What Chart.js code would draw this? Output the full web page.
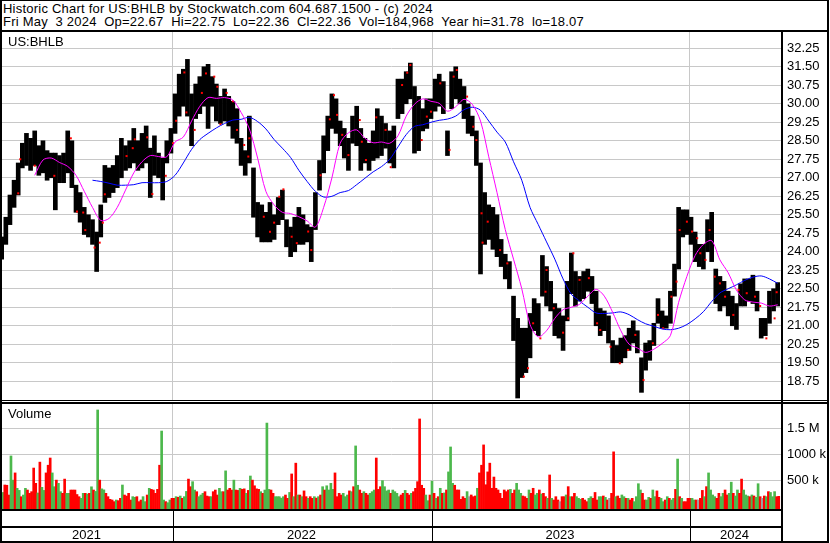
<!DOCTYPE html>
<html>
<head>
<meta charset="utf-8">
<script src="https://cdn.jsdelivr.net/npm/chart.js@4.4.0/dist/chart.umd.min.js"></script>
<style>
  body { margin: 0; background: #fff; }
  #wrap { position: relative; width: 830px; height: 543px; overflow: hidden;
          font-family: "Liberation Sans", Arial, sans-serif; font-size: 13px; color: #000; }
  #wrap canvas { position: absolute; left: 0; }
  .ln { position: absolute; background: #000; }
  .txt { position: absolute; white-space: pre; line-height: 13px; }
  .hdr { letter-spacing: 0.22px; }
</style>
</head>
<body>
<div id="wrap">
  <canvas id="price-chart" width="830" height="368" style="top:32px"></canvas>
  <canvas id="volume-chart" width="830" height="139" style="top:404px"></canvas>

  <div class="txt hdr" style="left:3px;top:2px">Historic Chart for US:BHLB by Stockwatch.com 604.687.1500 - (c) 2024</div>
  <div class="txt hdr" style="left:3px;top:15px">Fri May  3 2024  Op=22.67  Hi=22.75  Lo=22.36  Cl=22.36  Vol=184,968  Year hi=31.78  lo=18.07</div>
  <div class="txt" style="left:8px;top:35px">US:BHLB</div>
  <div class="txt" style="left:8px;top:407px">Volume</div>

  <!-- frame -->
  <div class="ln" style="left:0;top:0;width:829px;height:1px"></div>
  <div class="ln" style="left:0;top:0;width:2px;height:543px"></div>
  <div class="ln" style="left:827px;top:0;width:2px;height:543px"></div>
  <div class="ln" style="left:0;top:30px;width:829px;height:2px"></div>
  <div class="ln" style="left:781px;top:30px;width:2px;height:513px"></div>
  <div class="ln" style="left:0;top:400px;width:829px;height:1px"></div>
  <div class="ln" style="left:0;top:402px;width:829px;height:2px"></div>
  <div class="ln" style="left:0;top:509px;width:783px;height:2px"></div>
  <div class="ln" style="left:0;top:526px;width:783px;height:2px"></div>
  <div class="ln" style="left:0;top:541px;width:829px;height:2px"></div>
</div>

<script>
// Time axis is in trading days since early May 2021
const firstDay = 2.3;
const lastDay = 757.2;
const yearLabels = ['2021', '2022', '2023', '2024'];
const yearStartDay = [168, 419, 669];

const priceTicks = [18.75, 19.50, 20.25, 21.00, 21.75, 22.50, 23.25, 24.00, 24.75, 25.50,
  26.25, 27.00, 27.75, 28.50, 29.25, 30.00, 30.75, 31.50, 32.25];

// each price bar = high/low of 4 trading days
const barDays = 4;
const barHigh = [
  24.6, 25.4, 26.3, 26.9, 27.6, 28.4, 28.8, 28.6, 28.9, 28.3,
  28.5, 28.1, 28.0, 28.0, 27.9, 28.0, 28.9, 28.5, 26.7, 26.4,
  25.8, 25.5, 25.3, 24.8, 25.9, 27.5, 27.4, 27.5, 27.9, 28.6,
  28.3, 28.5, 29.0, 28.5, 28.8, 29.1, 28.2, 28.7, 28.0, 27.8,
  28.5, 29.0, 30.4, 31.2, 31.4, 31.8, 30.4, 30.8, 31.1, 31.5,
  31.6, 31.1, 30.8, 30.3, 30.6, 30.3, 30.1, 29.8, 28.6, 28.1,
  29.5, 27.4, 26.0, 25.9, 25.6, 26.0, 25.5, 26.2, 26.5, 25.3,
  25.0, 25.4, 25.8, 25.5, 25.1, 25.0, 26.4, 27.7, 28.7, 29.5,
  30.4, 30.2, 29.3, 29.0, 28.6, 29.5, 29.9, 29.0, 28.6, 28.4,
  28.9, 29.8, 29.5, 29.2, 28.9, 29.1, 31.0, 31.0, 31.3, 31.65,
  30.7, 30.3, 29.8, 30.2, 30.2, 31.0, 31.2, 30.9, 28.9, 31.3,
  31.5, 31.0, 30.7, 30.0, 29.5, 28.9, 27.6, 26.4, 25.9, 25.8,
  25.5, 24.5, 23.9, 23.6, 22.2, 21.3, 20.9, 20.9, 21.5, 22.1,
  21.9, 23.85, 23.4, 22.8, 21.9, 21.7, 21.4, 22.8, 23.95, 23.2,
  23.0, 23.2, 23.3, 23.0, 22.4, 21.7, 21.6, 21.4, 20.4, 20.2,
  20.5, 20.6, 20.9, 21.2, 20.8, 19.7, 20.3, 20.4, 21.1, 22.1,
  21.6, 21.4, 22.4, 23.5, 25.8, 25.7, 25.7, 25.4, 24.8, 24.3,
  24.3, 25.3, 25.6, 23.3, 23.0, 22.8, 22.4, 22.2, 21.9, 22.7,
  22.9, 22.9, 23.05, 22.4, 21.3, 21.3, 22.4, 22.5, 22.75
];
const barLow = [
  23.7, 24.3, 25.1, 25.8, 26.3, 27.4, 27.5, 27.3, 27.5, 27.1,
  27.2, 26.9, 27.0, 25.7, 26.8, 26.8, 27.2, 26.6, 25.6, 25.2,
  24.7, 24.6, 24.3, 23.2, 24.6, 26.0, 26.2, 26.4, 26.6, 27.0,
  27.3, 27.4, 27.6, 27.3, 27.4, 27.6, 26.2, 27.1, 27.0, 26.1,
  27.6, 28.0, 28.8, 29.5, 29.9, 29.5, 28.3, 29.4, 29.6, 29.9,
  29.0, 29.9, 29.3, 29.2, 29.3, 29.1, 28.6, 28.4, 27.5, 27.1,
  27.6, 25.4, 24.6, 24.4, 24.4, 24.4, 24.5, 25.1, 25.3, 24.2,
  23.8, 24.0, 24.3, 24.3, 24.4, 23.6, 24.9, 26.5, 27.2, 28.1,
  29.0, 28.8, 28.3, 27.8, 27.3, 28.4, 28.3, 27.3, 27.6, 27.3,
  27.7, 27.8, 27.9, 28.2, 27.6, 27.4, 29.4, 29.6, 30.0, 30.2,
  28.0, 28.1, 28.9, 29.0, 29.4, 29.7, 29.9, 29.6, 27.9, 29.8,
  30.2, 30.0, 29.4, 28.8, 28.7, 27.5, 23.1, 24.3, 24.5, 24.1,
  23.8, 23.4, 22.9, 22.5, 20.4, 18.07, 18.9, 19.1, 19.7, 20.8,
  20.6, 22.2, 21.8, 21.6, 20.6, 20.5, 20.0, 21.2, 22.3, 21.8,
  22.0, 22.1, 22.4, 21.9, 21.0, 20.6, 20.8, 20.3, 19.5, 19.5,
  19.5, 19.7, 20.0, 20.3, 19.9, 18.3, 19.2, 19.6, 20.2, 21.1,
  20.9, 20.9, 21.1, 22.2, 23.3, 24.6, 24.7, 24.3, 23.6, 23.4,
  23.3, 24.0, 23.6, 21.9, 21.6, 21.8, 21.4, 21.0, 20.85, 21.8,
  21.8, 22.0, 21.9, 21.6, 20.5, 20.6, 21.1, 21.6, 21.8
];

// red close marks that show at the edge of the bar mass
const markDay = [
  18, 20, 34, 53, 69, 75, 81, 83, 92, 97, 100, 102, 123, 129, 131, 143, 148, 161, 168, 171,
  179, 181, 189, 196, 200, 208, 211, 214, 220, 226, 230, 237, 241, 242, 256, 262, 266, 271,
  275, 283, 288, 299, 302, 311, 320, 324, 327, 332, 338, 349, 351, 355, 365, 374, 379, 390,
  395, 398, 409, 414, 418, 427, 436, 440, 443, 453, 459, 462, 467, 468, 473, 485, 492,
  508, 512, 517, 524, 529, 530, 537, 546, 551, 556, 562, 571, 579, 582, 592, 601, 609, 616,
  624, 633, 638, 643, 651, 656, 659, 666, 671, 676, 679, 684, 688, 693, 698, 703, 711, 716,
  724, 732, 737, 743, 751, 753
];
const markClose = [
  26.37, 27.75, 27.49, 27.08, 28.60, 25.63, 25.59, 24.88, 24.17, 24.37, 25.18, 26.33, 27.88, 28.20, 28.56, 28.64, 26.34, 27.08, 28.40, 29.31,
  31.27, 29.65, 28.94, 30.44, 31.23, 31.10, 30.69, 29.17, 30.44, 30.10, 28.94, 28.33, 27.86, 28.60, 25.42, 24.81, 25.18, 26.23,
  26.53, 24.61, 24.35, 24.82, 24.07, 27.10, 29.37, 30.35, 29.55, 28.74, 27.92, 29.34, 28.46, 27.72, 29.45, 28.94, 27.43, 30.76,
  31.26, 31.57, 28.53, 29.48, 29.68, 30.83, 28.13, 31.10, 31.37, 30.29, 29.07, 28.53, 25.56, 24.37, 25.22, 24.07, 23.53,
  18.94, 19.28, 21.10, 20.49, 22.38, 23.26, 21.71, 20.72, 21.30, 23.94, 22.86, 22.93, 21.10, 20.83, 20.15, 19.48, 20.02, 20.63,
  18.80, 20.29, 21.44, 20.90, 22.18, 22.79, 24.88, 25.22, 24.82, 24.55, 23.94, 23.67, 24.88, 22.99, 22.72, 22.18, 21.44, 22.45,
  22.32, 22.18, 21.80, 20.49, 21.30, 22.36
];

// moving averages, one reading every 8 trading days
const maDays = 8;
const maFast = [
  null, null, null, null, 27.1, 27.72, 27.8, 27.62, 27.46, 27.1,
  26.45, 25.8, 25.27, 25.35, 25.8, 26.5, 27.2, 27.65, 27.9, 27.86,
  27.85, 28.45, 28.65, 29.3, 29.9, 30.25, 30.22, 30.25, 30.15, 29.65,
  28.98, 27.8, 26.45, 25.9, 25.6, 25.55, 25.42, 25.25, 25.0, 25.8,
  27.0, 28.4, 28.82, 28.94, 28.6, 28.42, 28.45, 28.4, 28.7, 29.5,
  29.98, 30.2, 30.1, 30.02, 29.7, 29.88, 30.18, 29.98, 29.3, 27.85,
  26.4, 24.9, 23.7, 22.5, 21.05, 20.55, 20.8, 21.3, 21.65, 21.75,
  21.87, 22.2, 22.48, 22.2, 21.55, 20.8, 20.25, 20.1, 19.92, 20.05,
  20.28, 20.6, 21.95, 23.0, 23.85, 24.3, 24.45, 23.67, 23.15, 22.45,
  22.05, 21.96, 21.92, 21.8, 21.85
];
const maSlow = [
  null, null, null, null, null, null, null, null, null, null,
  null, 26.9, 26.85, 26.78, 26.7, 26.7, 26.72, 26.8, 26.8, 26.8,
  26.85, 27.1, 27.6, 28.15, 28.55, 28.8, 29.02, 29.2, 29.34, 29.37,
  29.45, 29.28, 28.98, 28.55, 28.2, 27.82, 27.3, 26.85, 26.45, 26.22,
  26.25, 26.4, 26.48, 26.72, 26.98, 27.24, 27.45, 27.75, 28.25, 28.75,
  29.08, 29.15, 29.25, 29.33, 29.38, 29.5, 29.76, 29.86, 29.74, 29.3,
  28.85, 28.45, 27.65, 26.9, 25.8, 25.1, 24.4, 23.7, 22.9, 22.28,
  22.0, 21.75, 21.52, 21.5, 21.52, 21.56, 21.45, 21.25, 21.08, 20.98,
  20.87, 20.84, 20.9, 21.05, 21.28, 21.57, 21.98, 22.33, 22.5, 22.66,
  22.84, 22.97, 23.02, 22.9, 22.72
];

// volume in thousands, one bar per 2 trading days; u = up, d = down, n = unchanged
const volDays = 2;
const volumeK = [
  275, 260, 405, 400, 210, 970, 500, 640, 340, 300,
  177, 210, 340, 307, 243, 275, 735, 437, 250, 850,
  360, 300, 640, 790, 930, 640, 372, 500, 437, 275,
  243, 520, 243, 243, 307, 307, 307, 220, 177, 146,
  243, 243, 230, 243, 370, 307, 280, 1865, 500, 330,
  310, 243, 178, 126, 113, 81, 113, 100, 146, 405,
  210, 190, 243, 113, 178, 165, 178, 81, 113, 178,
  81, 210, 340, 320, 307, 243, 320, 790, 1455, 113,
  81, 60, 113, 146, 146, 178, 165, 190, 146, 178,
  280, 520, 372, 470, 307, 275, 178, 210, 243, 275,
  190, 178, 178, 275, 307, 210, 340, 275, 275, 680,
  307, 340, 307, 500, 307, 300, 340, 320, 330, 243,
  300, 580, 500, 390, 330, 320, 275, 243, 307, 1610,
  320, 307, 243, 178, 178, 178, 150, 178, 210, 146,
  260, 620, 178, 830, 210, 210, 178, 290, 178, 146,
  178, 146, 178, 150, 178, 210, 372, 307, 390, 307,
  437, 320, 640, 178, 243, 210, 243, 178, 210, 290,
  275, 372, 1165, 400, 307, 243, 275, 243, 210, 243,
  275, 307, 930, 320, 372, 490, 372, 290, 307, 243,
  307, 275, 243, 178, 210, 243, 300, 243, 210, 243,
  275, 340, 470, 1690, 400, 340, 210, 100, 210,
  480, 243, 146, 178, 341, 243, 250, 308, 660, 1145,
  438, 400, 308, 308, 126, 178, 146, 276, 178, 211,
  178, 191, 341, 640, 790, 1185, 410, 660, 830, 341,
  560, 341, 308, 243, 146, 308, 276, 308, 320, 243,
  308, 438, 308, 243, 191, 178, 146, 308, 243, 341,
  211, 243, 308, 230, 243, 178, 146, 600, 146, 113,
  178, 113, 81, 178, 178, 211, 373, 178, 178, 243,
  178, 146, 126, 146, 113, 81, 146, 178, 146, 260,
  113, 178, 178, 191, 165, 113, 146, 243, 1050, 178,
  191, 146, 211, 178, 146, 146, 113, 146, 81, 178,
  430, 308, 243, 113, 113, 165, 146, 308, 178, 290,
  165, 146, 81, 113, 178, 146, 113, 146, 320, 910,
  178, 146, 81, 81, 146, 146, 146, 113, 113, 113,
  146, 300, 178, 373, 640, 308, 211, 178, 146, 243,
  178, 243, 308, 211, 243, 460, 243, 191, 308, 243,
  520, 308, 211, 191, 178, 211, 191, 165, 430, 178,
  146, 191, 178, 276, 260, 178, 276, 178, 185
];
const volumeDir = [
  'uuddduuduu', 'duudddddud', 'uuddduuduu', 'dduudddddu',
  'udududuudu', 'uddddduddu', 'dddduuddduu', 'duddddduud',
  'uuddududuu', 'dduuduuudd', 'duddduudud', 'ddudduddud',
  'udddduduuu', 'dduuuuuddu', 'dudududdud', 'dudududuuu',
  'udddduuudu', 'duuddudduu', 'uddduuuudu', 'uuudduddud',
  'ddddduudu',
  'dudududuuu', 'ddddddundd', 'dudddddddd', 'dddddddudd',
  'uuudddudduu', 'duddududdd', 'nddududduu', 'uddduuddduu',
  'dudnddudd', 'uududduuuu', 'dduuduudduu', 'duduududud',
  'ddduudnddu', 'duuuudduud', 'duuduuddu', 'uududuudnd', 'uduuuddud'
].join('').split('');

const volTicks = [500000, 1000000, 1500000];
const volTickLabels = ['500 k', '1000 k', '1.5 M'];

const fontFamily = '"Liberation Sans", Arial, sans-serif';
Chart.defaults.font.family = fontFamily;
Chart.defaults.font.size = 13;
Chart.defaults.color = '#000';

const gridGrey = '#c8c8c8';
const dirColors = { u: '#4cb84c', d: '#ff0000', n: '#a0a0a0' };

// shared time axis: grey lines at each new year, no labels
function timeAxis() {
  return {
    type: 'linear',
    min: firstDay,
    max: lastDay,
    offset: false,
    afterBuildTicks: scale => { scale.ticks = yearStartDay.map(d => ({ value: d })); },
    afterFit: scale => { scale.height = 0; scale.paddingLeft = 0; scale.paddingRight = 0; },
    ticks: { display: false },
    grid: { color: gridGrey, drawTicks: false, offset: false },
    border: { display: false }
  };
}

function rightAxis(min, max, tickValues, format) {
  return {
    position: 'right',
    min: min,
    max: max,
    afterBuildTicks: scale => { scale.ticks = tickValues.map(v => ({ value: v })); },
    afterFit: scale => { scale.width = 49; scale.paddingTop = 0; scale.paddingBottom = 0; },
    ticks: { autoSkip: false, padding: 6, callback: format },
    grid: { color: gridGrey, drawTicks: false },
    border: { display: false }
  };
}

const commonOptions = {
  responsive: false,
  animation: false,
  events: [],
  plugins: { legend: { display: false }, tooltip: { enabled: false } }
};

// price panel
new Chart(document.getElementById('price-chart'), {
  type: 'bar',
  data: {
    datasets: [
      {
        type: 'line',
        data: maFast.map((v, k) => ({ x: k * maDays + barDays / 2, y: v })),
        borderColor: '#ff00ff',
        borderWidth: 1,
        pointRadius: 0,
        tension: 0.3
      },
      {
        type: 'line',
        data: maSlow.map((v, k) => ({ x: k * maDays + barDays / 2, y: v })),
        borderColor: '#0000ff',
        borderWidth: 1,
        pointRadius: 0,
        tension: 0.3
      },
      {
        type: 'line',
        showLine: false,
        data: markDay.map((d, i) => ({ x: d, y: markClose[i] })),
        pointStyle: 'rect',
        pointRadius: 1.42,
        pointBorderWidth: 0,
        pointBackgroundColor: '#ff0000'
      },
      {
        data: barHigh.map((hi, i) => ({ x: i * barDays + barDays / 2, y: [barLow[i], hi] })),
        backgroundColor: '#000',
        borderWidth: 0,
        barThickness: 4
      }
    ]
  },
  options: {
    ...commonOptions,
    layout: { autoPadding: false, padding: { left: 2, right: 0, top: 0, bottom: 0 } },
    scales: {
      x: timeAxis(),
      y: rightAxis(17.99, 32.91, priceTicks, v => v.toFixed(2))
    }
  }
});

// volume panel + year strip underneath
const yearStrip = {
  id: 'yearStrip',
  afterDraw(chart) {
    const ctx = chart.ctx;
    const xs = chart.scales.x;
    const area = chart.chartArea;
    const edges = [area.left].concat(yearStartDay.map(d => Math.round(xs.getPixelForValue(d))), [area.right]);
    ctx.save();
    ctx.fillStyle = '#000';
    edges.slice(1, -1).forEach(px => ctx.fillRect(px, area.bottom, 1, 34));
    ctx.font = '13px ' + fontFamily;
    ctx.textAlign = 'center';
    ctx.textBaseline = 'middle';
    yearLabels.forEach((label, i) => ctx.fillText(label, (edges[i] + edges[i + 1]) / 2 - 1, area.bottom + 26));
    ctx.restore();
  }
};

const volMin = -62000;
new Chart(document.getElementById('volume-chart'), {
  type: 'bar',
  data: {
    datasets: [{
      data: volumeK.map((v, j) => ({ x: j * volDays + volDays / 2, y: v * 1000 })),
      backgroundColor: volumeDir.map(d => dirColors[d] || dirColors.n),
      borderWidth: 0,
      barThickness: 2,
      base: volMin
    }]
  },
  options: {
    ...commonOptions,
    layout: { autoPadding: false, padding: { left: 2, right: 0, top: 0, bottom: 34 } },
    scales: {
      x: timeAxis(),
      y: rightAxis(volMin, 1981000, volTicks, v => volTickLabels[volTicks.indexOf(v)])
    }
  },
  plugins: [yearStrip]
});
</script>
</body>
</html>
